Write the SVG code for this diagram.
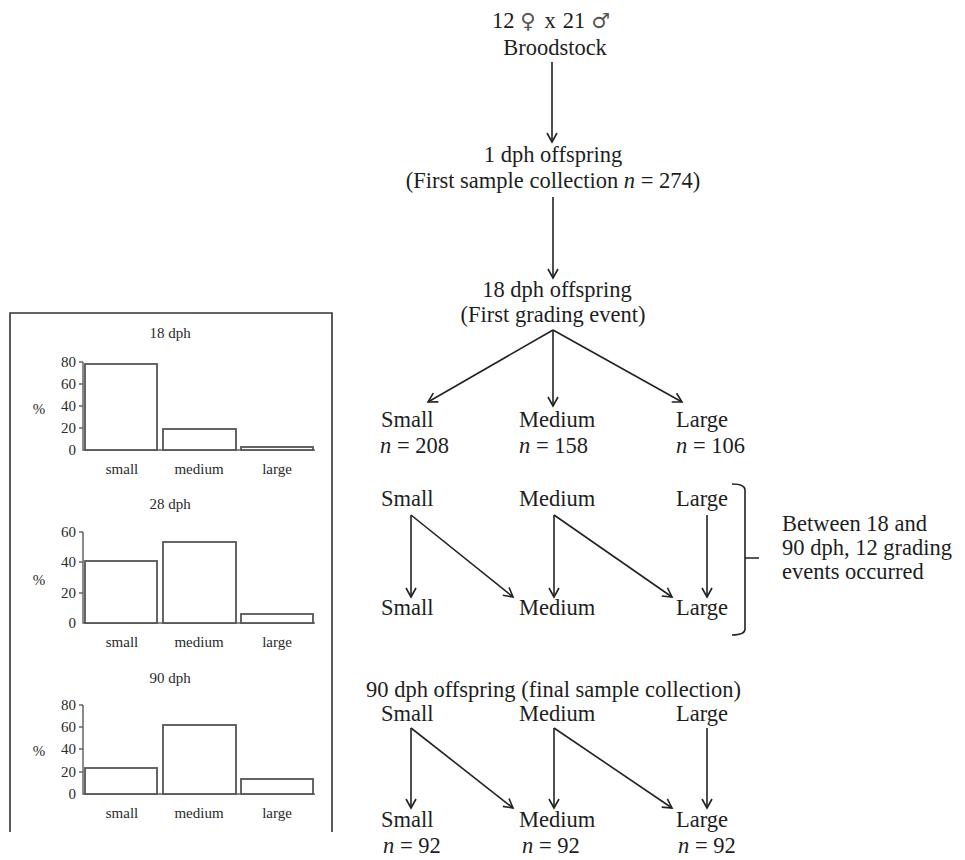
<svg xmlns="http://www.w3.org/2000/svg" width="965" height="860" viewBox="0 0 965 860">
<style>
.t{font-family:"Liberation Serif","Times New Roman",serif;font-size:22.5px;fill:#1e1e1e}
.c{font-family:"Liberation Serif","Times New Roman",serif;font-size:15px;fill:#2a2a2a}
.m{text-anchor:middle}
.e{text-anchor:end}
.ln{stroke:#222;stroke-width:1.6;fill:none}
.bar{fill:#fff;stroke:#555;stroke-width:1.8}
.ax{stroke:#666;stroke-width:1.5;fill:none}
.sym{font-family:"DejaVu Sans",sans-serif;font-size:21px;fill:#555}
</style>
<defs>
<marker id="ah" markerUnits="userSpaceOnUse" markerWidth="14" markerHeight="14" refX="10" refY="6" orient="auto" viewBox="0 0 14 12">
<path d="M1,1 L10,6 L1,11" fill="none" stroke="#222" stroke-width="1.6"/>
</marker>
</defs>
<rect width="965" height="860" fill="#fff"/>

<g id="charts">
<path d="M10,832 V313 H332 V832" fill="none" stroke="#333" stroke-width="1.6"/>
<g id="chart18">
<text class="c m" x="170" y="338">18 dph</text>
<path class="ax" d="M83,362 V450 H315 M79,362 H83 M79,384 H83 M79,406 H83 M79,428 H83"/>
<text class="c e" x="76" y="367">80</text>
<text class="c e" x="76" y="389">60</text>
<text class="c e" x="76" y="411">40</text>
<text class="c e" x="76" y="433">20</text>
<text class="c e" x="76" y="455">0</text>
<text class="c m" x="39" y="414">%</text>
<rect class="bar" x="85" y="364" width="72" height="86"/>
<rect class="bar" x="163" y="429" width="73" height="21"/>
<rect class="bar" x="241" y="447" width="72" height="3"/>
<text class="c m" x="122" y="474">small</text>
<text class="c m" x="199" y="474">medium</text>
<text class="c m" x="277" y="474">large</text>
</g>
<g id="chart28">
<text class="c m" x="170" y="509">28 dph</text>
<path class="ax" d="M83,532 V623 H315 M79,532 H83 M79,562 H83 M79,593 H83"/>
<text class="c e" x="76" y="537">60</text>
<text class="c e" x="76" y="567">40</text>
<text class="c e" x="76" y="598">20</text>
<text class="c e" x="76" y="628">0</text>
<text class="c m" x="39" y="585">%</text>
<rect class="bar" x="85" y="561" width="72" height="62"/>
<rect class="bar" x="163" y="542" width="73" height="81"/>
<rect class="bar" x="241" y="614" width="72" height="9"/>
<text class="c m" x="122" y="647">small</text>
<text class="c m" x="199" y="647">medium</text>
<text class="c m" x="277" y="647">large</text>
</g>
<g id="chart90">
<text class="c m" x="170" y="683">90 dph</text>
<path class="ax" d="M83,705 V794 H315 M79,705 H83 M79,727 H83 M79,749 H83 M79,772 H83"/>
<text class="c e" x="76" y="710">80</text>
<text class="c e" x="76" y="732">60</text>
<text class="c e" x="76" y="754">40</text>
<text class="c e" x="76" y="777">20</text>
<text class="c e" x="76" y="799">0</text>
<text class="c m" x="39" y="756">%</text>
<rect class="bar" x="85" y="768" width="72" height="26"/>
<rect class="bar" x="163" y="725" width="73" height="69"/>
<rect class="bar" x="241" y="779" width="72" height="15"/>
<text class="c m" x="122" y="818">small</text>
<text class="c m" x="199" y="818">medium</text>
<text class="c m" x="277" y="818">large</text>
</g>
</g>

<g id="connectors">
<line class="ln" x1="552" y1="62" x2="552" y2="142" marker-end="url(#ah)"/>
<line class="ln" x1="553" y1="197" x2="553" y2="278" marker-end="url(#ah)"/>
<line class="ln" x1="553" y1="330" x2="428" y2="402" marker-end="url(#ah)"/>
<line class="ln" x1="553" y1="330" x2="553" y2="406" marker-end="url(#ah)"/>
<line class="ln" x1="553" y1="330" x2="682" y2="402" marker-end="url(#ah)"/>
<line class="ln" x1="411" y1="515" x2="411" y2="597" marker-end="url(#ah)"/>
<line class="ln" x1="411" y1="515" x2="513" y2="597" marker-end="url(#ah)"/>
<line class="ln" x1="554" y1="515" x2="554" y2="597" marker-end="url(#ah)"/>
<line class="ln" x1="554" y1="515" x2="672" y2="597" marker-end="url(#ah)"/>
<line class="ln" x1="707" y1="515" x2="707" y2="597" marker-end="url(#ah)"/>
<line class="ln" x1="411" y1="728" x2="411" y2="808" marker-end="url(#ah)"/>
<line class="ln" x1="411" y1="728" x2="513" y2="808" marker-end="url(#ah)"/>
<line class="ln" x1="554" y1="728" x2="554" y2="808" marker-end="url(#ah)"/>
<line class="ln" x1="554" y1="728" x2="672" y2="808" marker-end="url(#ah)"/>
<line class="ln" x1="707" y1="728" x2="707" y2="808" marker-end="url(#ah)"/>
<path class="ln" d="M732,484 Q745,484 745,490 V629 Q745,635 732,635 M745,558 H759"/>
</g>

<g id="broodstock">
<text class="t" x="492" y="28">12 <tspan class="sym">♀</tspan><tspan dx="9">x</tspan><tspan dx="7">21</tspan><tspan class="sym" dx="6">♂</tspan></text>
<text class="t m" x="555" y="55">Broodstock</text>
</g>
<g id="dph1">
<text class="t m" x="553" y="162">1 dph offspring</text>
<text class="t m" x="553" y="188">(First sample collection <tspan font-style="italic">n</tspan> = 274)</text>
</g>
<g id="dph18">
<text class="t m" x="557" y="297">18 dph offspring</text>
<text class="t m" x="553" y="322">(First grading event)</text>
</g>
<g id="grade1-small"><text class="t" x="381" y="427">Small</text><text class="t" x="380" y="453"><tspan font-style="italic">n</tspan> = 208</text></g>
<g id="grade1-medium"><text class="t" x="519" y="427">Medium</text><text class="t" x="519" y="453"><tspan font-style="italic">n</tspan> = 158</text></g>
<g id="grade1-large"><text class="t" x="676" y="427">Large</text><text class="t" x="676" y="453"><tspan font-style="italic">n</tspan> = 106</text></g>

<g id="mid-small-a"><text class="t" x="381" y="506">Small</text></g>
<g id="mid-medium-a"><text class="t" x="519" y="506">Medium</text></g>
<g id="mid-large-a"><text class="t" x="676" y="506">Large</text></g>
<g id="mid-small-b"><text class="t" x="381" y="615">Small</text></g>
<g id="mid-medium-b"><text class="t" x="519" y="615">Medium</text></g>
<g id="mid-large-b"><text class="t" x="676" y="615">Large</text></g>

<g id="note">
<text class="t" x="782" y="531">Between 18 and</text>
<text class="t" x="782" y="555">90 dph, 12 grading</text>
<text class="t" x="782" y="579">events occurred</text>
</g>

<g id="dph90"><text class="t" x="366" y="697">90 dph offspring (final sample collection)</text></g>
<g id="fin-small-a"><text class="t" x="381" y="721">Small</text></g>
<g id="fin-medium-a"><text class="t" x="519" y="721">Medium</text></g>
<g id="fin-large-a"><text class="t" x="676" y="721">Large</text></g>
<g id="fin-small-b"><text class="t" x="381" y="827">Small</text><text class="t" x="383" y="853"><tspan font-style="italic">n</tspan> = 92</text></g>
<g id="fin-medium-b"><text class="t" x="519" y="827">Medium</text><text class="t" x="522" y="853"><tspan font-style="italic">n</tspan> = 92</text></g>
<g id="fin-large-b"><text class="t" x="676" y="827">Large</text><text class="t" x="678" y="853"><tspan font-style="italic">n</tspan> = 92</text></g>
</svg>
